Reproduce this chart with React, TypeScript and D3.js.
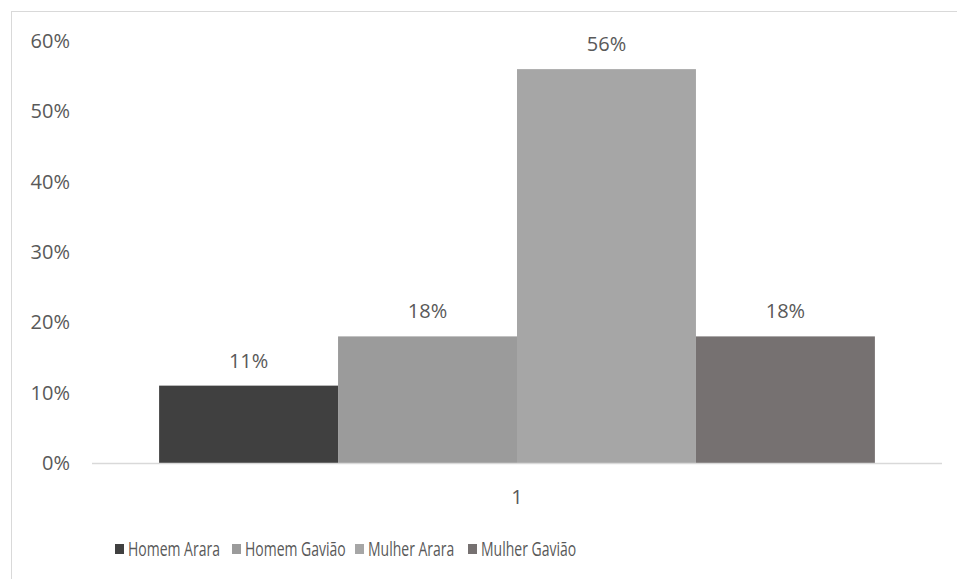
import React, { useEffect, useRef } from 'react';
import * as d3 from 'd3';

const categories = ['1'];
const seriesNames = ['Homem Arara', 'Homem Gavião', 'Mulher Arara', 'Mulher Gavião'];
const seriesValues = [0.11, 0.18, 0.56, 0.18];
const seriesColors = ['#404040', '#9b9b9b', '#a6a6a6', '#767171'];
const yTicks = [0, 0.1, 0.2, 0.3, 0.4, 0.5, 0.6];

const W = 957;
const H = 579;
const FONT = '"Open Sans", sans-serif';
const TEXT = '#595959';

export default function App() {
  const ref = useRef<SVGSVGElement>(null);

  useEffect(() => {
    const svg = d3.select(ref.current);
    svg.selectAll('*').remove();

    const plot = { left: 92, right: 942, top: 41, bottom: 463 };

    svg.append('rect')
      .attr('x', 11.5).attr('y', 11.5)
      .attr('width', 1000).attr('height', 1000)
      .attr('fill', '#fff').attr('stroke', '#d9d9d9');

    const x0 = d3.scaleBand().domain(categories).range([plot.left, plot.right]).paddingInner(0).paddingOuter(0);
    const x1 = d3.scaleBand().domain(seriesNames)
      .range([0, x0.bandwidth()])
      .paddingOuter(0.375).paddingInner(0);
    const y = d3.scaleLinear().domain([0, 0.6]).range([plot.bottom, plot.top]);

    // y tick labels
    svg.append('g').selectAll('text').data(yTicks).enter().append('text')
      .attr('x', 70).attr('y', d => y(d)).attr('dy', '0.35em')
      .attr('text-anchor', 'end')
      .attr('font-family', FONT).attr('font-size', 20).attr('fill', TEXT)
      .text(d => d3.format('.0%')(d));

    const g = svg.append('g');
    categories.forEach(cat => {
      const gx = x0(cat)!;
      g.selectAll('rect.bar').data(seriesNames).enter().append('rect')
        .attr('class', 'bar')
        .attr('x', s => gx + x1(s)!)
        .attr('width', x1.bandwidth())
        .attr('y', (s, i) => y(seriesValues[i]))
        .attr('height', (s, i) => plot.bottom - y(seriesValues[i]))
        .attr('fill', (s, i) => seriesColors[i]);

      g.selectAll('text.lbl').data(seriesNames).enter().append('text')
        .attr('class', 'lbl')
        .attr('x', s => gx + x1(s)! + x1.bandwidth() / 2)
        .attr('y', (s, i) => y(seriesValues[i]) - 25)
        .attr('dy', '0.35em')
        .attr('text-anchor', 'middle')
        .attr('font-family', FONT).attr('font-size', 20).attr('fill', TEXT)
        .text((s, i) => d3.format('.0%')(seriesValues[i]));

      svg.append('text')
        .attr('x', gx + x0.bandwidth() / 2).attr('y', 497).attr('dy', '0.35em')
        .attr('text-anchor', 'middle')
        .attr('font-family', FONT).attr('font-size', 20).attr('fill', TEXT)
        .text(cat);
    });

    // baseline
    svg.append('line')
      .attr('x1', plot.left).attr('x2', plot.right)
      .attr('y1', plot.bottom + 0.5).attr('y2', plot.bottom + 0.5)
      .attr('stroke', '#d9d9d9').attr('stroke-width', 1.5);

    // legend
    const legendX = [115, 232, 355, 468];
    const leg = svg.append('g').attr('transform', 'translate(0, 549)');
    seriesNames.forEach((s, i) => {
      const it = leg.append('g').attr('transform', `translate(${legendX[i]}, 0)`);
      it.append('rect').attr('x', 0).attr('y', -5).attr('width', 9).attr('height', 10).attr('fill', seriesColors[i]);
      it.append('text')
        .attr('transform', 'translate(13,0) scale(0.7,1)')
        .attr('dy', '0.35em')
        .attr('font-family', FONT).attr('font-size', 20).attr('fill', TEXT)
        .text(s);
    });
  }, []);

  return (
    <svg ref={ref} width={W} height={H}
      style={{ position: 'absolute', left: 0, top: 0, background: '#fff' }} />
  );
}
